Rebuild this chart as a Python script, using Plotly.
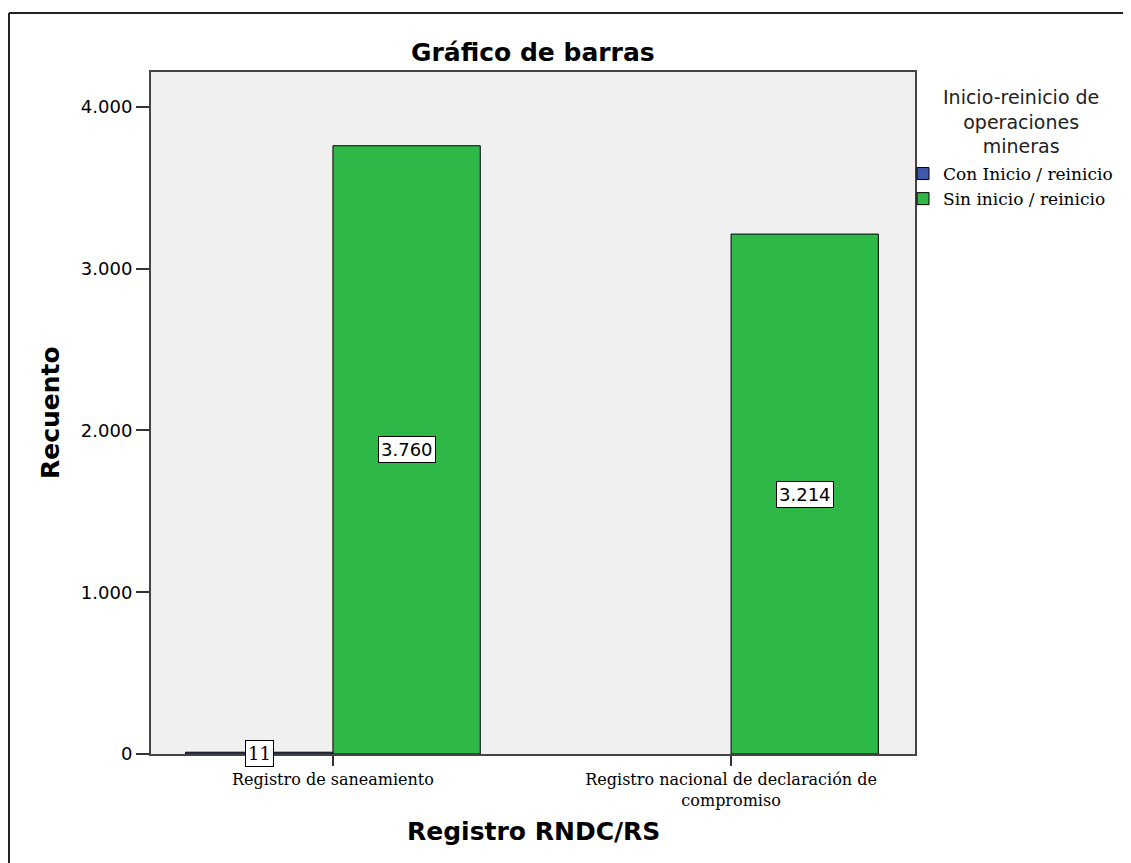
import plotly.graph_objects as go

categories = ["Registro de saneamiento", "Registro nacional de declaración de<br>compromiso"]
series_names = ["Con Inicio / reinicio", "Sin inicio / reinicio"]
con_inicio = [11, None]
sin_inicio = [3760, 3214]
y_ticks = [0, 1000, 2000, 3000, 4000]

colors = ["#3E58AC", "#2EB848"]

# screen-pixel -> paper helpers (plot area on screen: x 151..915, y 72..754)
def px(x):
    return (x - 151) / 764

def py(y):
    return (754 - y) / 682

fig = go.Figure()
for name, vals, col in zip(series_names, [con_inicio, sin_inicio], colors):
    fig.add_trace(go.Bar(
        x=categories, y=vals, name=name,
        marker=dict(color=col, line=dict(color="#000000", width=1)),
    ))

def fmt(v):
    return f"{v:,}".replace(",", ".")

annotations = []
for si, vals in enumerate([con_inicio, sin_inicio]):
    for ci, v in enumerate(vals):
        if v is None:
            continue
        annotations.append(dict(
            x=ci + (-0.185 if si == 0 else 0.185), y=v / 2, xref="x", yref="y",
            text=fmt(v), showarrow=False,
            font=dict(family="DejaVu Serif" if v < 100 else "DejaVu Sans", size=18, color="#000000"),
            bgcolor="#FFFFFF", bordercolor="#000000", borderwidth=1, borderpad=2,
        ))

annotations += [
    dict(x=0.5, y=py(52), xref="paper", yref="paper", text="<b>Gráfico de barras</b>",
         showarrow=False, xanchor="center", yanchor="middle",
         font=dict(family="DejaVu Sans", size=25, color="#000000")),
    dict(x=px(50), y=0.5, xref="paper", yref="paper", text="<b>Recuento</b>",
         showarrow=False, xanchor="center", yanchor="middle", textangle=-90,
         font=dict(family="DejaVu Sans", size=25, color="#000000")),
    dict(x=0.5, y=py(832), xref="paper", yref="paper", text="<b>Registro RNDC/RS</b>",
         showarrow=False, xanchor="center", yanchor="middle",
         font=dict(family="DejaVu Sans", size=25, color="#000000")),
    dict(x=px(1021), y=py(84), xref="paper", yref="paper",
         text="Inicio-reinicio de<br>operaciones<br>mineras", showarrow=False,
         xanchor="center", yanchor="top", align="center",
         font=dict(family="DejaVu Sans", size=19, color="#222222")),
]

fig.update_layout(
    width=1131, height=863,
    margin=dict(l=143, r=224, t=64, b=117),
    paper_bgcolor="#FFFFFF", plot_bgcolor="#F0F0F0",
    barmode="group", bargap=0.26, bargroupgap=0,
    separators=",.",
    showlegend=True,
    legend=dict(x=px(903), xanchor="left", y=py(156), yanchor="top",
                font=dict(family="DejaVu Serif", size=17, color="#000000"),
                tracegroupgap=0, itemwidth=30, bgcolor="rgba(0,0,0,0)"),
    annotations=annotations,
    shapes=[
        dict(type="line", xref="paper", yref="paper", x0=px(9), x1=1.5,
             y0=py(13), y1=py(13), line=dict(color="#222222", width=2)),
        dict(type="line", xref="paper", yref="paper", x0=px(9), x1=px(9),
             y0=py(13), y1=-0.3, line=dict(color="#222222", width=2)),
    ],
)

fig.update_xaxes(
    range=[-0.457, 1.462], showgrid=False, zeroline=False,
    showline=True, linecolor="#444444", linewidth=2, mirror=True,
    ticks="outside", ticklen=10, tickcolor="#333333", tickwidth=2,
    tickfont=dict(family="DejaVu Serif", size=16, color="#000000"),
)
fig.update_yaxes(
    range=[0, 4216], tickvals=y_ticks, tickformat=",d", showgrid=False, zeroline=False,
    showline=True, linecolor="#444444", linewidth=2, mirror=True,
    ticks="outside", ticklen=13, tickcolor="#333333", tickwidth=2,
    tickfont=dict(family="DejaVu Sans", size=18, color="#000000"),
)

fig.write_html("out.html")
